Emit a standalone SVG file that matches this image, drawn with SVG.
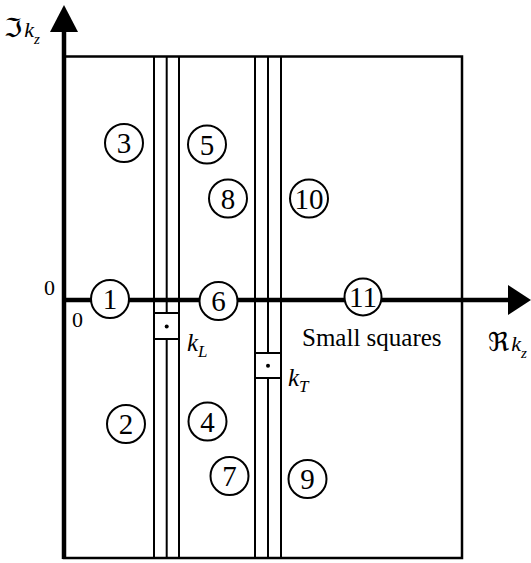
<svg xmlns="http://www.w3.org/2000/svg" width="531" height="563" viewBox="0 0 531 563">
<style>
.frame{fill:none;stroke:#000;stroke-width:2.5}
.strip{stroke:#000;stroke-width:2;fill:none}
.axis{stroke:#000;stroke-width:4.5;fill:none}
.node circle{fill:#fff;stroke:#000;stroke-width:2}
.node text{font-family:"Liberation Serif","Times New Roman",serif;font-size:29px;text-anchor:middle;fill:#000}
.lbl{font-family:"Liberation Serif","Times New Roman",serif;fill:#000}
.it{font-style:italic}
.sym{font-family:"DejaVu Serif","DejaVu Sans",serif;font-style:normal}
.sq{fill:#fff;stroke:#000;stroke-width:2}
</style>
<rect width="531" height="563" fill="#fff"/>
<rect class="frame" x="64" y="56.5" width="398" height="501.5"/>
<g id="strips">
<line class="strip" x1="154" y1="56" x2="154" y2="558"/>
<line class="strip" x1="166.7" y1="56" x2="166.7" y2="558"/>
<line class="strip" x1="179" y1="56" x2="179" y2="558"/>
<line class="strip" x1="255" y1="56" x2="255" y2="558"/>
<line class="strip" x1="268" y1="56" x2="268" y2="558"/>
<line class="strip" x1="281" y1="56" x2="281" y2="558"/>
</g>
<g id="connectors">
<line class="axis" x1="64" y1="559" x2="64" y2="30"/>
<polygon points="64,5 50,32 78,32" fill="#000"/>
<line class="axis" x1="62" y1="300" x2="510" y2="300"/>
<polygon points="531,300 508,285 508,315" fill="#000"/>
</g>
<g id="squareL">
<rect class="sq" x="154" y="313" width="25" height="26"/>
<circle cx="166.7" cy="326.5" r="2" fill="#000"/>
</g>
<g id="squareT">
<rect class="sq" x="255" y="353" width="26" height="25"/>
<circle cx="268" cy="365.7" r="2" fill="#000"/>
</g>
<g id="n1" class="node"><circle cx="110" cy="299" r="19"/><text x="110" y="309">1</text></g>
<g id="n2" class="node"><circle cx="126" cy="424" r="19"/><text x="126" y="434">2</text></g>
<g id="n3" class="node"><circle cx="124" cy="143" r="19"/><text x="124" y="153">3</text></g>
<g id="n4" class="node"><circle cx="207.5" cy="421.5" r="19"/><text x="207.5" y="431.5">4</text></g>
<g id="n5" class="node"><circle cx="207" cy="144.5" r="19"/><text x="207" y="154.5">5</text></g>
<g id="n6" class="node"><circle cx="218.5" cy="301" r="19"/><text x="218.5" y="311">6</text></g>
<g id="n7" class="node"><circle cx="229.5" cy="476" r="19"/><text x="229.5" y="486">7</text></g>
<g id="n8" class="node"><circle cx="228" cy="198.5" r="19"/><text x="228" y="208.5">8</text></g>
<g id="n9" class="node"><circle cx="307.5" cy="479" r="19"/><text x="307.5" y="489">9</text></g>
<g id="n10" class="node"><circle cx="309" cy="198.5" r="19"/><text x="309" y="208.5">10</text></g>
<g id="n11" class="node"><circle cx="363" cy="297" r="18.5"/><text x="363" y="307">11</text></g>
<g id="labels">
<text class="lbl" x="4" y="37" font-size="22"><tspan class="sym" font-size="26">ℑ</tspan><tspan class="it" dx="2">k</tspan><tspan class="it" font-size="15" dy="7">z</tspan></text>
<text class="lbl" x="488" y="351" font-size="22"><tspan class="sym" font-size="26">ℜ</tspan><tspan class="it" dx="2">k</tspan><tspan class="it" font-size="15" dy="7">z</tspan></text>
<text class="lbl" x="44" y="295" font-size="22">0</text>
<text class="lbl" x="72" y="327" font-size="22">0</text>
<text class="lbl" x="302" y="346" font-size="25">Small squares</text>
<text class="lbl it" x="187" y="351" font-size="25">k<tspan font-size="17" dy="6">L</tspan></text>
<text class="lbl it" x="288" y="386" font-size="25">k<tspan font-size="17" dy="6">T</tspan></text>
</g>
</svg>
